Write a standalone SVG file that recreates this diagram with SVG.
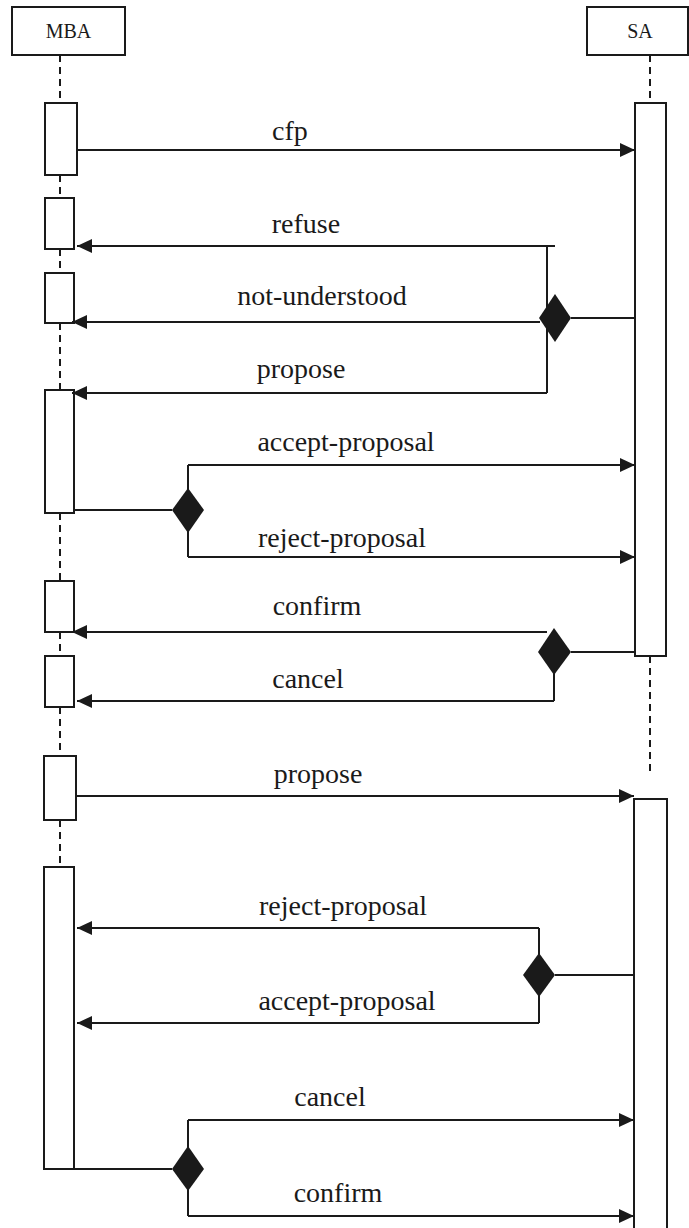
<svg xmlns="http://www.w3.org/2000/svg" width="689" height="1228" viewBox="0 0 689 1228">
<style>
.box{fill:#fff;stroke:#1a1a1a;stroke-width:2}
.life{stroke:#1a1a1a;stroke-width:2;stroke-dasharray:7 5;fill:none}
.ln{stroke:#1a1a1a;stroke-width:2;fill:none}
.arr{stroke:#1a1a1a;stroke-width:2;fill:none;marker-end:url(#ah)}
.dia{fill:#1a1a1a;stroke:none}
.lbl{font-family:"Liberation Serif","Times New Roman",serif;font-size:28px;fill:#1a1a1a;text-anchor:middle}
.hd{font-family:"Liberation Serif","Times New Roman",serif;font-size:20px;fill:#1a1a1a;text-anchor:middle}
</style>
<defs>
<marker id="ah" markerWidth="16" markerHeight="14" refX="15" refY="7" orient="auto" markerUnits="userSpaceOnUse">
<path d="M0,0 L15,7 L0,14 z" fill="#1a1a1a"/>
</marker>
</defs>
<rect width="689" height="1228" fill="#fff"/>
<g id="lifelines">
<path class="life" d="M60,55 V103 M60,175 V198 M60,249 V273 M60,323 V390 M60,513 V581 M60,632 V656 M60,707 V756 M60,820 V867"/>
<path class="life" d="M650,55 V103 M650,656 V775"/>
</g>
<g id="MBA"><rect class="box" x="12" y="7" width="113" height="48"/><text class="hd" x="68.5" y="38">MBA</text></g>
<g id="SA"><rect class="box" x="587" y="7" width="101" height="48"/><text class="hd" x="640" y="38">SA</text></g>
<g id="activations">
<rect id="mba-a1" class="box" x="45" y="103" width="32" height="72"/>
<rect id="mba-a2" class="box" x="45" y="198" width="29" height="51"/>
<rect id="mba-a3" class="box" x="45" y="273" width="29" height="50"/>
<rect id="mba-a4" class="box" x="45" y="390" width="29" height="123"/>
<rect id="mba-a5" class="box" x="45" y="581" width="29" height="51"/>
<rect id="mba-a6" class="box" x="45" y="656" width="29" height="51"/>
<rect id="mba-a7" class="box" x="44" y="756" width="32" height="64"/>
<rect id="mba-a8" class="box" x="44" y="867" width="30" height="302"/>
<rect id="sa-a1" class="box" x="635" y="103" width="31" height="553"/>
<rect id="sa-a2" class="box" x="634" y="799" width="33" height="440"/>
</g>
<g id="connectors">
<path class="arr" d="M77,150 H635"/>
<path class="arr" d="M555,246 H77"/>
<path class="ln" d="M547,246 V393"/>
<path class="arr" d="M540,322 H72"/>
<path class="arr" d="M547,393 H72"/>
<path class="ln" d="M571,318 H635"/>
<polygon class="dia" points="555,294 571,318 555,342 539,318"/>
<path class="arr" d="M188,465 H635"/>
<path class="arr" d="M188,557 H635"/>
<path class="ln" d="M188,465 V557 M74,510 H172"/>
<polygon class="dia" points="188,488 204,510 188,533 172,510"/>
<path class="arr" d="M547,632 H72"/>
<path class="arr" d="M554,701 H77"/>
<path class="ln" d="M554,660 V701 M571,652 H635"/>
<polygon class="dia" points="554,628 571,652 554,675 538,652"/>
<path class="arr" d="M77,796 H634"/>
<path class="arr" d="M539,928 H77"/>
<path class="arr" d="M539,1023 H77"/>
<path class="ln" d="M539,928 V1023 M555,975 H634"/>
<polygon class="dia" points="539,953 555,975 539,997 523,975"/>
<path class="arr" d="M188,1120 H634"/>
<path class="arr" d="M188,1216 H634"/>
<path class="ln" d="M188,1120 V1216 M74,1169 H172"/>
<polygon class="dia" points="188,1146 204,1169 188,1191 172,1169"/>
</g>
<g id="labels">
<text class="lbl" x="290" y="140">cfp</text>
<text class="lbl" x="306" y="233">refuse</text>
<text class="lbl" x="322" y="305">not-understood</text>
<text class="lbl" x="301" y="378">propose</text>
<text class="lbl" x="346" y="451">accept-proposal</text>
<text class="lbl" x="342" y="547">reject-proposal</text>
<text class="lbl" x="317" y="615">confirm</text>
<text class="lbl" x="308" y="688">cancel</text>
<text class="lbl" x="318" y="783">propose</text>
<text class="lbl" x="343" y="915">reject-proposal</text>
<text class="lbl" x="347" y="1010">accept-proposal</text>
<text class="lbl" x="330" y="1106">cancel</text>
<text class="lbl" x="338" y="1202">confirm</text>
</g>
</svg>
